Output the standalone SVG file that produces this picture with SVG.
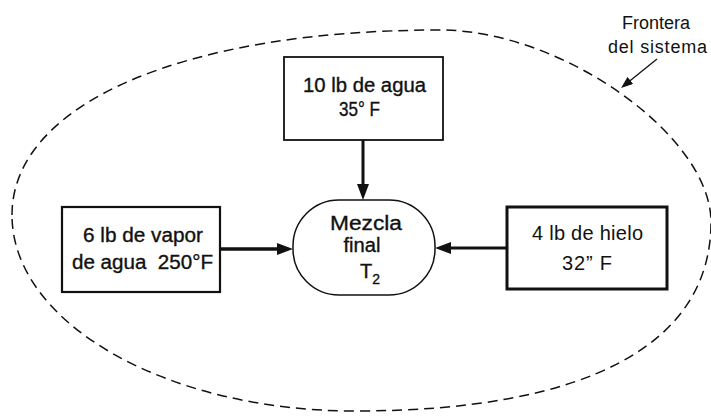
<svg xmlns="http://www.w3.org/2000/svg" width="711" height="416" viewBox="0 0 711 416">
<style>
  text { font-family: "Liberation Sans", Arial, sans-serif; fill: #111; }
  .t { font-size: 20px; text-anchor: middle; }
  .heavy { stroke: #111; stroke-width: 0.35; }
  .lbl { font-size: 18px; text-anchor: middle; }
  .box { fill: #fff; stroke: #111; }
  .conn { stroke: #111; fill: none; }
  .boundary { fill: none; stroke: #111; stroke-width: 1.5; stroke-dasharray: 10 6; }
</style>
<defs>
  <marker id="ah" markerUnits="userSpaceOnUse" markerWidth="16" markerHeight="12" refX="8" refY="6" orient="auto">
    <path d="M0,0 L16,6 L0,12 Z" fill="#111"/>
  </marker>
  <marker id="ahs" markerUnits="userSpaceOnUse" markerWidth="12" markerHeight="9" refX="6" refY="4.5" orient="auto">
    <path d="M0,0 L12,4.5 L0,9 Z" fill="#111"/>
  </marker>
</defs>
<rect width="711" height="416" fill="#fff"/>

<g id="boundary">
  <path class="boundary" d="M 12 215 C 12 104 183 30 440 30 C 562 30 711 136 711 222 C 711 345 586 411 355 411 C 166 411 12 323 12 215 Z"/>
  <text class="lbl" x="656" y="29" textLength="68" lengthAdjust="spacingAndGlyphs">Frontera</text>
  <text class="lbl" x="657.5" y="53" textLength="99" lengthAdjust="spacing">del sistema</text>
</g>

<g id="connectors">
  <line class="conn" x1="657" y1="59" x2="625.7" y2="84.2" stroke-width="1.3" marker-end="url(#ahs)"/>
  <line class="conn" x1="363" y1="140" x2="363" y2="192" stroke-width="3" marker-end="url(#ah)"/>
  <line class="conn" x1="220" y1="249" x2="285" y2="249" stroke-width="3.5" marker-end="url(#ah)"/>
  <line class="conn" x1="507" y1="248" x2="443" y2="248" stroke-width="3" marker-end="url(#ah)"/>
</g>

<g id="node-agua">
  <rect class="box" x="284" y="57" width="159" height="83" stroke-width="1.8"/>
  <text class="t heavy" x="364.5" y="92" textLength="123" lengthAdjust="spacingAndGlyphs">10 lb de agua</text>
  <text class="t heavy" x="359.5" y="116" textLength="41" lengthAdjust="spacingAndGlyphs">35° F</text>
</g>

<g id="node-vapor">
  <rect class="box" x="62" y="207" width="158" height="85" stroke-width="2.2"/>
  <text class="t heavy" x="143" y="242" textLength="120" lengthAdjust="spacingAndGlyphs">6 lb de vapor</text>
  <text class="t heavy" x="142.5" y="269" textLength="141" lengthAdjust="spacingAndGlyphs" xml:space="preserve">de agua  250°F</text>
</g>

<g id="node-mezcla">
  <rect class="box" x="293" y="200" width="142" height="95" rx="46" ry="46" stroke-width="1.5"/>
  <text class="t heavy" x="366" y="230" textLength="72" lengthAdjust="spacingAndGlyphs">Mezcla</text>
  <text class="t heavy" x="362" y="252" textLength="37" lengthAdjust="spacingAndGlyphs">final</text>
  <text class="t heavy" x="370" y="278">T<tspan font-size="14" dy="6">2</tspan></text>
</g>

<g id="node-hielo">
  <rect class="box" x="507" y="207" width="160" height="82" stroke-width="3"/>
  <text class="t" x="587.5" y="240" textLength="111" lengthAdjust="spacing">4 lb de hielo</text>
  <text class="t" x="587" y="270" textLength="50" lengthAdjust="spacing">32” F</text>
</g>
</svg>
